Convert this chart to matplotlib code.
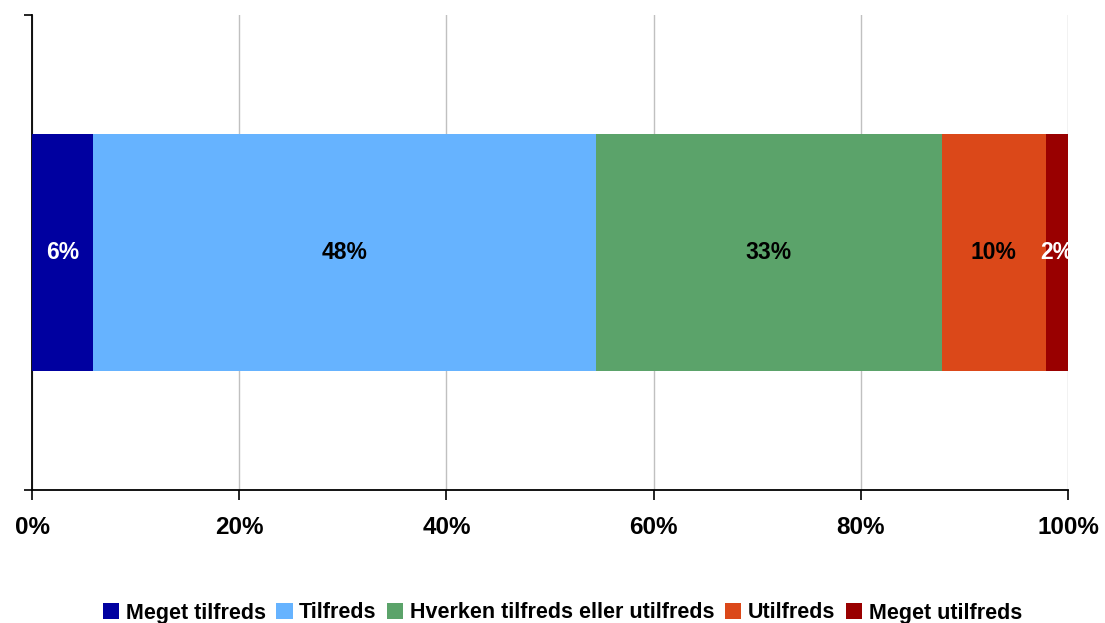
import matplotlib
matplotlib.use("Agg")
import matplotlib.pyplot as plt
from matplotlib.patches import Patch

categories = ["Meget tilfreds", "Tilfreds", "Hverken tilfreds eller utilfreds", "Utilfreds", "Meget utilfreds"]
values = [5.9, 48.5, 33.4, 10.1, 2.1]
labels = ["6%", "48%", "33%", "10%", "2%"]
colors = ["#0000A0", "#66B3FF", "#5BA36A", "#DB4819", "#990000"]
label_colors = ["white", "black", "black", "black", "white"]
xticks = [0, 20, 40, 60, 80, 100]
xtick_labels = ["0%", "20%", "40%", "60%", "80%", "100%"]

plt.rcParams['font.family'] = ['Liberation Sans', 'DejaVu Sans']

fig = plt.figure(figsize=(11.05, 6.23), dpi=100)
ax = fig.add_axes([32/1105, 1-490/623, (1068-32)/1105, (490-15)/623])

left = 0
for v, lab, c, lc in zip(values, labels, colors, label_colors):
    ax.barh(0, v, left=left, height=1.0, color=c, zorder=3)
    ax.text(left + v/2, 0, lab, ha="center", va="center", color=lc,
            fontsize=16.5, fontweight="bold", zorder=4, clip_on=True)
    left += v

ax.set_xlim(0, 100)
ax.set_ylim(-1, 1)
ax.set_xticks(xticks)
ax.set_xticklabels(xtick_labels, fontsize=17.5, fontweight="bold")
ax.set_yticks([-1, 1])
ax.set_yticklabels([])
ax.tick_params(axis="x", direction="out", length=7, width=1.2, pad=12, color="black")
ax.tick_params(axis="y", direction="out", length=6, width=1.2, color="black")
ax.grid(axis="x", color="#C0C0C0", linewidth=1, zorder=0)
ax.set_axisbelow(True)
for s in ["top", "right"]:
    ax.spines[s].set_visible(False)
for s in ["left", "bottom"]:
    ax.spines[s].set_linewidth(1.3)
    ax.spines[s].set_color("black")

handles = [Patch(facecolor=c, edgecolor="none") for c in colors]
fig.legend(handles, categories, loc="center", bbox_to_anchor=(0.509, 1-613/623),
           ncol=5, frameon=False, prop={"size": 15.5, "weight": "bold"},
           handlelength=0.75, handleheight=0.75, handletextpad=0.3, columnspacing=0.5)

fig.savefig("out.png", dpi=100)
